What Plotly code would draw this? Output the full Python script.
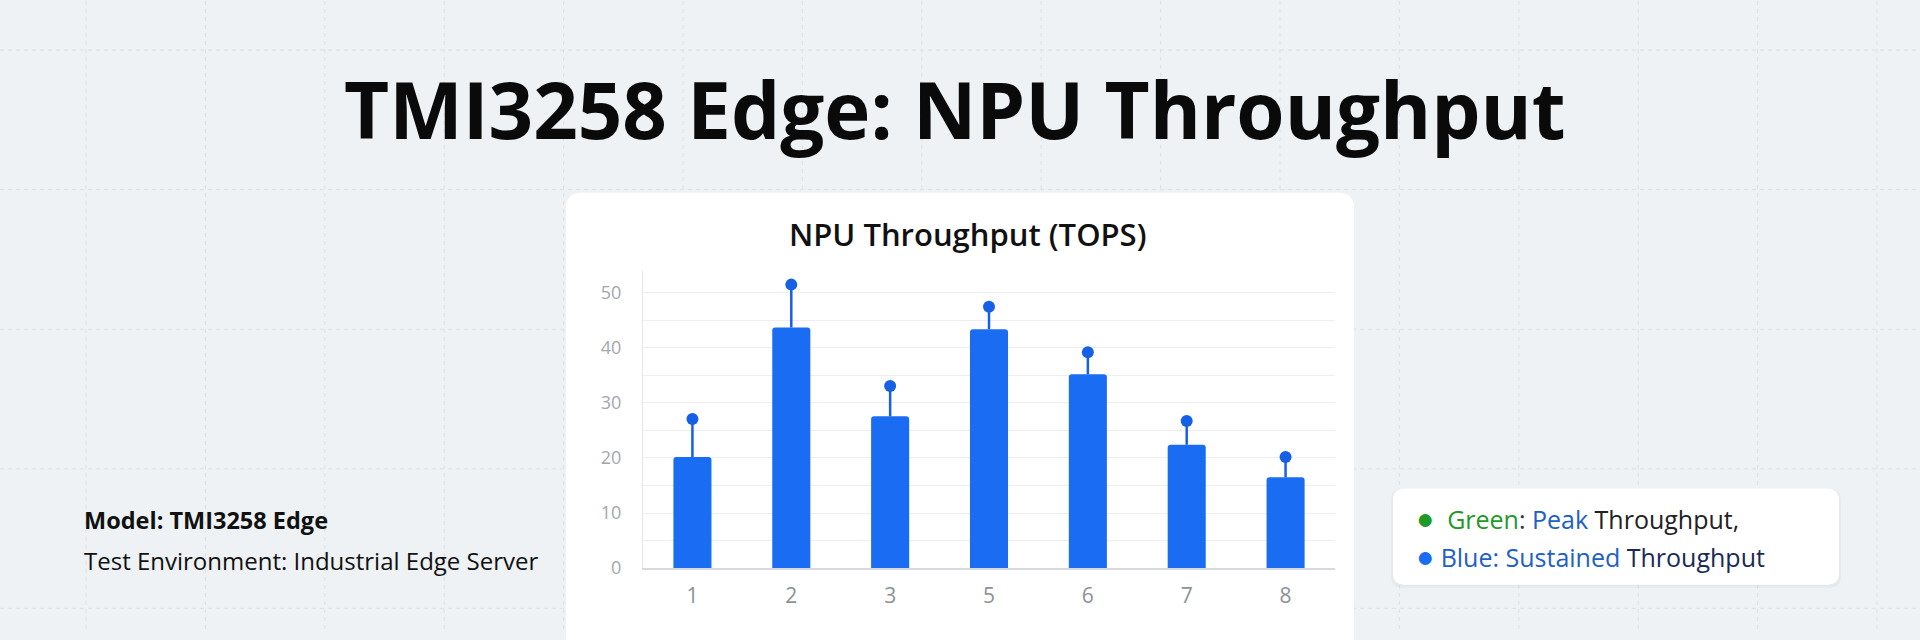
import plotly.graph_objects as go

# chart data
gpu_ids = ["1", "2", "3", "5", "6", "7", "8"]
sustained_tops = [20.2, 43.7, 27.6, 43.4, 35.2, 22.4, 16.5]
peak_tops = [27.1, 51.5, 33.1, 47.5, 39.2, 26.7, 20.2]
y_ticks = [0, 10, 20, 30, 40, 50]

W, H = 1920, 640
BLUE = "#1a6cf2"
DOT = "#1560e4"


def px(x):
    return x / W


def py(y):
    return 1 - y / H


def rounded_rect(x0, y0, x1, y1, r):
    # path in paper coords, pixel input (y from top)
    X0, X1 = px(x0), px(x1)
    Y0, Y1 = py(y0), py(y1)
    rx, ry = r / W, r / H
    return (f"M {X0+rx},{Y0} L {X1-rx},{Y0} Q {X1},{Y0} {X1},{Y0-ry} "
            f"L {X1},{Y1+ry} Q {X1},{Y1} {X1-rx},{Y1} L {X0+rx},{Y1} "
            f"Q {X0},{Y1} {X0},{Y1+ry} L {X0},{Y0-ry} Q {X0},{Y0} {X0+rx},{Y0} Z")


fig = go.Figure()

fig.add_trace(go.Bar(
    x=gpu_ids, y=sustained_tops, name="Sustained Throughput",
    marker=dict(color=BLUE, cornerradius=3, line=dict(width=0)),
    width=0.385,
))

diff = [p - s for p, s in zip(peak_tops, sustained_tops)]
fig.add_trace(go.Scatter(
    x=gpu_ids, y=peak_tops, mode="markers", name="Peak Throughput",
    marker=dict(color=DOT, size=12),
    error_y=dict(type="data", symmetric=False, array=[0] * len(diff),
                 arrayminus=diff, color=DOT, thickness=2.5, width=0),
))

shapes = []
# background dashed grid
gx = 86
while gx < W:
    shapes.append(dict(type="line", xref="paper", yref="paper", layer="below",
                       x0=px(gx), x1=px(gx), y0=0, y1=1,
                       line=dict(color="#dce1e4", width=1, dash="4px,4px")))
    gx += 119.4
for gy in [51, 193, 335, 477, 619]:
    shapes.append(dict(type="line", xref="paper", yref="paper", layer="below",
                       x0=0, x1=1, y0=py(gy), y1=py(gy),
                       line=dict(color="#dce1e4", width=1, dash="4px,4px")))

# chart card
shapes.append(dict(type="path", xref="paper", yref="paper", layer="below",
                   path=rounded_rect(566, 196, 1354, 700, 16),
                   fillcolor="white", line=dict(width=0)))
# legend card shadow + card
shapes.append(dict(type="path", xref="paper", yref="paper", layer="below",
                   path=rounded_rect(1391, 497, 1841, 598, 12),
                   fillcolor="rgba(0,0,0,0.035)", line=dict(width=0)))
shapes.append(dict(type="path", xref="paper", yref="paper", layer="below",
                   path=rounded_rect(1393, 497, 1839, 595, 12),
                   fillcolor="white", line=dict(width=0)))

annotations = [
    dict(text="<b>TMI3258 Edge: NPU Throughput</b>", x=px(955), y=py(111),
         xref="paper", yref="paper", showarrow=False, xanchor="center", yanchor="middle",
         font=dict(family="Open Sans", size=78, color="#0a0a0a")),
    dict(text="NPU Throughput (TOPS)", x=px(967), y=py(238),
         xref="paper", yref="paper", showarrow=False, xanchor="center", yanchor="middle",
         font=dict(family="Open Sans", size=31, color="#111111", weight=600)),
    dict(text="<b>Model: TMI3258 Edge</b>", x=px(82), y=py(529),
         xref="paper", yref="paper", showarrow=False, xanchor="left", yanchor="middle",
         font=dict(family="Open Sans", size=23.5, color="#111111")),
    dict(text="Test Environment: Industrial Edge Server", x=px(82), y=py(570),
         xref="paper", yref="paper", showarrow=False, xanchor="left", yanchor="middle",
         font=dict(family="Open Sans", size=24, color="#111111")),
    dict(text=("<span style='color:#1e9a26;font-size:30px'>●</span>  <span style='color:#1e9a26'>Green</span>"
               "<span style='color:#333'>: </span><span style='color:#2160c4'>Peak</span>"
               "<span style='color:#222'> Throughput,</span>"),
         x=px(1414), y=py(527), xref="paper", yref="paper", showarrow=False,
         xanchor="left", yanchor="middle",
         font=dict(family="Open Sans", size=25, color="#222")),
    dict(text=("<span style='color:#1a6cf2;font-size:30px'>●</span> <span style='color:#2160c4'>Blue: Sustained</span>"
               "<span style='color:#1a2a55'> Throughput</span>"),
         x=px(1414), y=py(565), xref="paper", yref="paper", showarrow=False,
         xanchor="left", yanchor="middle",
         font=dict(family="Open Sans", size=25, color="#222")),
]

fig.update_layout(
    width=W, height=H,
    margin=dict(l=0, r=0, t=0, b=0),
    paper_bgcolor="#eef2f4",
    plot_bgcolor="rgba(0,0,0,0)",
    showlegend=False,
    shapes=shapes,
    annotations=annotations,
    bargap=0.6,
)
fig.update_xaxes(
    domain=[px(643), px(1335)], type="category",
    showgrid=False, showline=True, linecolor="#d6dade", linewidth=1.5,
    tickfont=dict(family="Open Sans", size=21, color="#8c9298"),
    ticks="", ticklabelstandoff=8,
)
fig.update_yaxes(
    domain=[py(578), py(578 - 54 * 5.6)], range=[0, 54],
    tickvals=y_ticks, showgrid=True, gridcolor="#eceef1", gridwidth=1,
    minor=dict(dtick=5, showgrid=True, gridcolor="#eceef1"),
    zeroline=False, showline=True, linecolor="#e4e7ea",
    tickfont=dict(family="Open Sans", size=18, color="#a3a8ad"),
    ticks="", ticklabelstandoff=17,
)

fig.write_html("out.html", config={"displayModeBar": False},
               post_script="document.body.style.margin='0';")
